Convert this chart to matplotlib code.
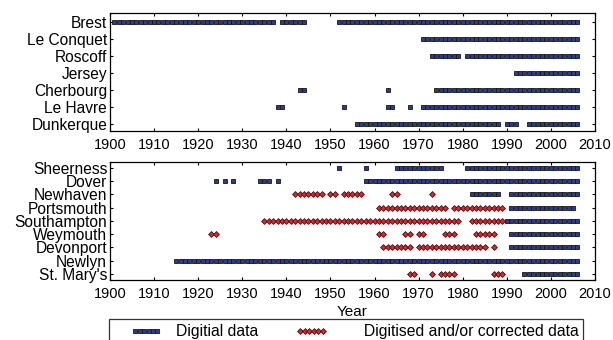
import numpy as np
import matplotlib
matplotlib.use("Agg")
import matplotlib.pyplot as plt
from matplotlib.lines import Line2D
from matplotlib.legend_handler import HandlerLine2D

plt.rcParams['font.family'] = ['Liberation Sans', 'DejaVu Sans']

# spans of years (first, last)
top_stations = ["Brest", "Le Conquet", "Roscoff", "Jersey", "Cherbourg", "Le Havre", "Dunkerque"]
top_digital = [
    [(1901, 1937), (1939, 1944), (1952, 2006)],
    [(1971, 2006)],
    [(1973, 1979), (1981, 2006)],
    [(1992, 2006)],
    [(1943, 1944), (1963, 1963), (1974, 2006)],
    [(1938, 1939), (1953, 1953), (1963, 1964), (1968, 1968), (1971, 2006)],
    [(1956, 1988), (1990, 1992), (1995, 2006)],
]

bottom_stations = ["Sheerness", "Dover", "Newhaven", "Portsmouth", "Southampton",
                   "Weymouth", "Devonport", "Newlyn", "St. Mary's"]
bottom_digital = [
    [(1952, 1952), (1958, 1958), (1965, 1975), (1981, 2006)],
    [(1924, 1924), (1926, 1926), (1928, 1928), (1934, 1936), (1938, 1938), (1958, 2006)],
    [(1982, 1988), (1991, 2006)],
    [(1991, 2005)],
    [(1990, 2006)],
    [(1991, 2006)],
    [(1991, 2006)],
    [(1915, 2006)],
    [(1994, 2006)],
]
bottom_digitised = [
    [],
    [],
    [(1942, 1948), (1950, 1951), (1953, 1957), (1964, 1965), (1973, 1973)],
    [(1961, 1976), (1978, 1989)],
    [(1935, 1979), (1982, 1989)],
    [(1923, 1924), (1961, 1962), (1967, 1968), (1970, 1971), (1976, 1978), (1983, 1987)],
    [(1962, 1968), (1970, 1985), (1987, 1987)],
    [],
    [(1968, 1969), (1973, 1973), (1975, 1978), (1987, 1989)],
]

xticks = np.arange(1900, 2011, 10)

blue = '#2b3a94'
red = '#e4232a'
sq = dict(ls='none', marker='s', ms=3.1, mfc=blue, mec='#151515', mew=0.6, zorder=3)
dm = dict(ls='none', marker='D', ms=3.0, mfc=red, mec='#300000', mew=0.5, zorder=2)


def years(spans):
    out = []
    for a, b in spans:
        out.extend(range(a, b + 1))
    return np.array(out)


def style(ax, names):
    ax.set_xlim(1900, 2010)
    ax.set_xticks(xticks)
    ax.set_yticks(range(len(names)))
    ax.set_yticklabels(names, fontsize=11.2)
    ax.tick_params(axis='x', labelsize=10.5, pad=5)
    ax.tick_params(direction='in', length=2.5, width=0.8, top=True, right=True)
    ax.tick_params(axis='y', pad=2)
    for s in ax.spines.values():
        s.set_linewidth(0.9)


fig = plt.figure(figsize=(6.13, 3.4), dpi=100)
ax1 = fig.add_axes([0.1794, 0.6147, 0.7912, 0.3462])
ax2 = fig.add_axes([0.1794, 0.1765, 0.7912, 0.3479])

for i, spans in enumerate(top_digital):
    yr = years(spans)
    ax1.plot(yr, np.full(len(yr), i), **sq)
ax1.set_ylim(6.4, -0.5)
style(ax1, top_stations)

for i, spans in enumerate(bottom_digitised):
    yr = years(spans)
    if len(yr):
        ax2.plot(yr, np.full(len(yr), i), **dm)
for i, spans in enumerate(bottom_digital):
    yr = years(spans)
    ax2.plot(yr, np.full(len(yr), i), **sq)
ax2.set_ylim(8.45, -0.45)
style(ax2, bottom_stations)
ax2.set_xlabel("Year", fontsize=11, labelpad=3)

h1 = Line2D([], [], **sq)
h2 = Line2D([], [], **dm)
hm = {h1: HandlerLine2D(numpoints=6, marker_pad=1.34),
      h2: HandlerLine2D(numpoints=6, marker_pad=1.34)}
top = 1 - 319.3 / 340
leg = fig.legend([h1, h2], ["Digitial data", "     Digitised and/or corrected data"],
                 handler_map=hm, ncol=2, loc='upper left',
                 bbox_to_anchor=(109.3 / 613, top - 0.01, 0.5, 0.01),
                 fontsize=11.3, frameon=True, fancybox=False,
                 edgecolor='black', borderpad=0.3, borderaxespad=0,
                 handlelength=4.11, handletextpad=-0.15, columnspacing=1.34)
leg.get_frame().set_linewidth(0.9)

fig.savefig("out.png", dpi=100)
